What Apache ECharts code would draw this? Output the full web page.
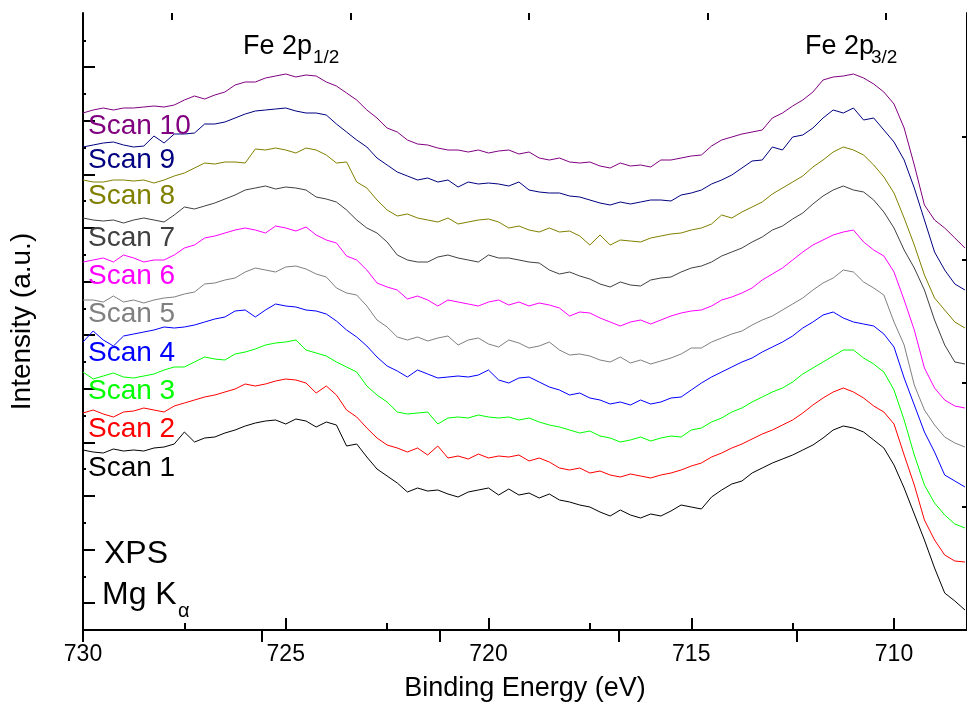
<!DOCTYPE html>
<html><head><meta charset="utf-8">
<script src="https://cdn.jsdelivr.net/npm/echarts@6/dist/echarts.min.js"></script>
<style>html,body{margin:0;padding:0;background:#fff}#c{width:967px;height:713px}</style>
</head><body><div id="c"></div>
<script>
const energies = [730,729.75,729.5,729.25,729,728.75,728.5,728.25,728,727.75,727.5,727.25,727,726.75,726.5,726.25,726,725.75,725.5,725.25,725,724.75,724.5,724.25,724,723.75,723.5,723.25,723,722.75,722.5,722.25,722,721.75,721.5,721.25,721,720.75,720.5,720.25,720,719.75,719.5,719.25,719,718.75,718.5,718.25,718,717.75,717.5,717.25,717,716.75,716.5,716.25,716,715.75,715.5,715.25,715,714.75,714.5,714.25,714,713.75,713.5,713.25,713,712.75,712.5,712.25,712,711.75,711.5,711.25,711,710.75,710.5,710.25,710,709.75,709.5,709.25,709,708.75,708.5,708.25];

const scan1 = [180,178,177,181,179,180,179,182,183,186,198,188,192,193,197,200,204,207,209,210,206,211,209,203,208,205,184,186,173,161,154,147,138,142,139,140,136,133,138,140,142,135,141,135,137,132,136,130,128,125,123,118,114,120,115,112,116,114,119,125,123,121,133,140,146,149,157,162,167,171,175,180,185,192,200,204,202,198,190,182,165,142,116,90,62,37,29,20];
const scan2 = [217,220,216,213,218,219,222,220,218,224,227,230,233,235,238,241,246,244,246,249,251,250,247,237,244,235,220,213,202,192,185,182,178,182,175,184,172,174,171,176,172,174,173,175,169,172,168,162,160,162,157,159,155,153,156,154,152,155,157,160,164,167,173,177,182,186,191,196,200,205,210,217,225,232,238,242,238,232,224,218,206,175,145,110,90,75,69,68];
const scan3 = [258,251,254,257,253,252,254,256,260,263,263,268,273,271,270,276,278,281,285,287,288,290,280,277,274,268,263,258,244,235,228,218,216,217,218,206,212,213,212,215,213,212,213,210,212,208,205,203,200,197,199,194,192,188,190,193,189,192,194,193,200,202,208,212,218,222,228,233,238,242,248,256,262,268,274,280,280,272,266,258,240,210,175,145,127,115,106,102];
const scan4 = [288,299,290,284,294,296,298,300,303,302,303,305,308,311,313,319,320,313,320,326,324,323,320,319,316,309,300,293,284,273,264,259,253,260,256,252,253,254,253,255,260,250,247,252,253,248,243,240,235,237,232,230,226,228,225,230,226,228,232,233,240,247,253,258,263,268,272,278,283,288,294,302,308,315,318,312,308,306,304,296,283,252,225,198,178,155,149,143];
const scan5 = [330,330,328,334,328,330,327,330,332,333,336,338,346,347,350,352,358,362,360,358,363,364,361,356,353,342,337,335,324,310,303,293,290,293,289,292,294,285,290,292,286,283,290,287,282,284,288,280,275,276,274,270,268,273,267,270,266,269,272,276,282,282,288,292,296,299,305,310,314,320,326,332,340,347,352,360,358,348,342,335,308,285,245,220,205,193,187,183];
const scan6 = [368,370,372,368,375,372,368,370,370,375,382,385,392,394,397,400,402,400,397,404,402,399,403,395,390,387,374,370,360,347,343,340,331,334,330,324,330,328,326,324,328,330,325,328,324,327,325,322,314,318,317,312,308,304,308,310,306,310,314,317,319,320,324,330,333,337,342,350,356,362,370,378,385,390,395,398,400,388,380,374,358,330,300,262,242,230,224,222];
const scan7 = [412,410,409,410,407,410,412,410,408,415,423,421,424,427,431,435,440,442,444,441,443,442,440,433,431,428,420,410,402,397,388,375,370,368,368,373,375,372,370,368,375,372,372,370,368,367,360,356,358,354,351,346,343,348,345,344,350,352,353,358,362,364,368,374,378,382,388,393,400,404,411,417,426,434,440,444,440,438,430,418,402,380,362,340,310,285,268,266];
const scan8 = [450,448,448,450,450,449,450,447,450,454,457,462,467,466,468,468,467,481,480,482,480,477,482,480,475,467,468,448,442,430,420,414,416,412,410,408,412,406,408,410,411,408,402,404,400,398,402,398,399,394,385,395,385,390,389,388,392,394,396,397,400,402,406,415,412,418,423,428,436,442,448,454,463,470,478,483,480,475,465,453,437,412,385,355,332,320,308,302];
const scan9 = [483,485,487,488,485,483,484,494,487,496,496,497,506,506,508,512,516,519,520,521,522,519,517,517,515,506,498,490,483,472,465,458,454,450,452,448,450,443,448,446,447,446,444,448,440,438,437,437,434,433,430,427,425,428,426,428,430,430,429,435,437,440,446,450,455,462,469,470,483,480,493,495,502,512,520,517,522,510,512,500,488,470,442,410,378,360,346,340];
const scan10 = [517,520,522,520,522,522,523,524,523,525,530,534,531,535,538,545,548,548,552,554,556,553,555,554,548,544,537,530,520,512,502,498,490,486,485,482,480,480,478,480,477,479,480,476,478,472,470,472,468,467,468,464,462,467,464,465,463,470,470,472,474,475,484,490,493,496,498,500,512,517,524,530,538,550,553,554,556,552,546,538,526,502,465,425,410,402,392,382];

const seriesNames = ['Scan 1','Scan 2','Scan 3','Scan 4','Scan 5','Scan 6','Scan 7','Scan 8','Scan 9','Scan 10'];
const seriesColors = ['#000000','#ff0000','#00ff00','#0000ff','#808080','#ff00ff','#404040','#808000','#000080','#800080'];
const seriesValues = [scan1,scan2,scan3,scan4,scan5,scan6,scan7,scan8,scan9,scan10];

const bottomMajorTicks = [730,725,720,715,710];
const bottomMinorTicks = [727.5,722.5,717.5,712.5];
const topMajorTicks = [730,725.6,721.2,716.8,712.4];
const topMinorTicks = [727.8,723.4,719,714.6,710.2];
const leftMajorTicks = [26.8,80.4,134,187.6,241.2,294.8,348.4,402,455.6,509.2,562.8];
const leftMinorTicks = [53.6,107.2,160.8,214.4,268,321.6,375.2,428.8,482.4,536,589.6];
const rightTicks = [123.4,246.8,370.2,493.6];

const X_MIN = 708.2, X_MAX = 730, Y_MIN = 0, Y_MAX = 617;
const FONT = '"Liberation Sans", Arial, sans-serif';

const chart = echarts.init(document.getElementById('c'), null, {renderer:'canvas'});

function xAx(opts) {
  return Object.assign({
    type:'value', min:X_MIN, max:X_MAX, inverse:true, gridIndex:0,
    splitLine:{show:false},
    axisLine:{show:false, lineStyle:{color:'#000', width:2}},
    axisLabel:{show:false}
  }, opts);
}
function yAx(opts) {
  return Object.assign({
    type:'value', min:Y_MIN, max:Y_MAX, gridIndex:0,
    splitLine:{show:false},
    axisLine:{show:false, lineStyle:{color:'#000', width:2}},
    axisLabel:{show:false}
  }, opts);
}

const labelYs = [468,429,391,353,314,276,238,196,160,126];

const graphics = [];
seriesNames.forEach((n,i)=>{
  graphics.push({type:'text', x:88, y:labelYs[i], z:100,
    style:{text:n, fill:seriesColors[i], font:'28px '+FONT, align:'left', verticalAlign:'middle'}});
});
graphics.push({type:'text', x:104, y:554, z:100, style:{text:'XPS', fill:'#000', font:'32px '+FONT, align:'left', verticalAlign:'middle'}});
graphics.push({type:'text', x:102, y:595, z:100, style:{text:'Mg K', fill:'#000', font:'32px '+FONT, align:'left', verticalAlign:'middle'}});
graphics.push({type:'text', x:178, y:611, z:100, style:{text:'α', fill:'#000', font:'20px '+FONT, align:'left', verticalAlign:'middle'}});
graphics.push({type:'text', x:243, y:47, z:100, style:{text:'Fe 2p', fill:'#000', font:'27px '+FONT, align:'left', verticalAlign:'middle'}});
graphics.push({type:'text', x:313, y:58, z:100, style:{text:'1/2', fill:'#000', font:'19px '+FONT, align:'left', verticalAlign:'middle'}});
graphics.push({type:'text', x:805, y:47, z:100, style:{text:'Fe 2p', fill:'#000', font:'27px '+FONT, align:'left', verticalAlign:'middle'}});
graphics.push({type:'text', x:871, y:58, z:100, style:{text:'3/2', fill:'#000', font:'19px '+FONT, align:'left', verticalAlign:'middle'}});

const option = {
  animation:false,
  backgroundColor:'#fff',
  grid:{left:81, right:-1, top:13, bottom:83, containLabel:false},
  xAxis:[
    xAx({position:'bottom',
      axisLine:{show:true, lineStyle:{color:'#000', width:2}},
      axisTick:{show:true, inside:true, length:12, lineStyle:{color:'#000', width:2}, customValues:bottomMajorTicks},
      axisLabel:{show:true, customValues:bottomMajorTicks, margin:13, color:'#000', fontSize:23, fontFamily:FONT},
      name:'Binding Energy (eV)', nameLocation:'middle', nameGap:45,
      nameTextStyle:{color:'#000', fontSize:27, fontFamily:FONT}
    }),
    xAx({position:'bottom',
      axisTick:{show:true, inside:true, length:7, lineStyle:{color:'#000', width:2}, customValues:bottomMinorTicks}
    }),
    xAx({position:'top',
      axisLine:{show:true, lineStyle:{color:'#000', width:2}},
      axisTick:{show:true, inside:true, length:12, lineStyle:{color:'#000', width:2}, customValues:topMajorTicks}
    }),
    xAx({position:'top',
      axisTick:{show:true, inside:true, length:7, lineStyle:{color:'#000', width:2}, customValues:topMinorTicks}
    })
  ],
  yAxis:[
    yAx({position:'left',
      axisLine:{show:true, lineStyle:{color:'#000', width:2}},
      axisTick:{show:true, inside:true, length:12, lineStyle:{color:'#000', width:2}, customValues:leftMajorTicks},
      name:'Intensity (a.u.)', nameLocation:'middle', nameGap:47,
      nameTextStyle:{color:'#000', fontSize:28, fontFamily:FONT}
    }),
    yAx({position:'left',
      axisTick:{show:true, inside:true, length:3, lineStyle:{color:'#000', width:2}, customValues:leftMinorTicks}
    }),
    yAx({position:'right',
      axisLine:{show:true, lineStyle:{color:'#000', width:2}},
      axisTick:{show:true, inside:true, length:5, lineStyle:{color:'#000', width:2}, customValues:rightTicks}
    })
  ],
  series: seriesNames.map((n,i)=>({
    name:n, type:'line', xAxisIndex:0, yAxisIndex:0,
    showSymbol:false, symbol:'none', smooth:false,
    lineStyle:{color:seriesColors[i], width:1},
    itemStyle:{color:seriesColors[i]},
    data: energies.map((e,k)=>[e, seriesValues[i][k]])
  })),
  graphic: graphics
};
chart.setOption(option);
</script></body></html>
